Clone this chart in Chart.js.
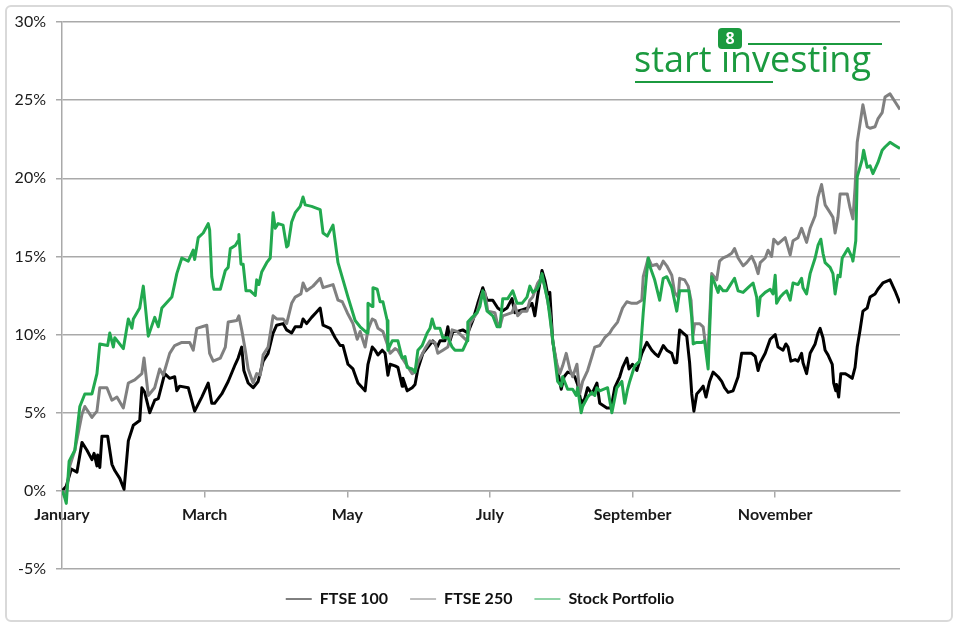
<!DOCTYPE html>
<html>
<head>
<meta charset="utf-8">
<script src="https://cdn.jsdelivr.net/npm/chart.js@4.4.0/dist/chart.umd.min.js"></script>
<style>
  html, body { margin: 0; padding: 0; background: #fff; }
  #wrap { position: relative; width: 960px; height: 630px; }
  #frame { position: absolute; left: 5px; top: 5px; width: 944px; height: 613px;
           border: 2px solid #d9d9d9; border-radius: 6px; }
  canvas { position: absolute; left: 0; top: 0; }
  .logo-word { position: absolute; left: 634px; top: 41px; font-family: "Open Sans", sans-serif;
               font-size: 36px; line-height: 36px; color: #1b9a3f; white-space: nowrap; }
  .logo-icon { position: absolute; left: 718px; top: 28px; width: 24px; height: 21px;
               background: #1b9a3f; border-radius: 4px; color: #fff; font: bold 16px/21px "Open Sans", sans-serif;
               text-align: center; }
  .rule { position: absolute; height: 2px; background: #1b9a3f; }
</style>
</head>
<body>
<div id="wrap">
  <div id="frame"></div>
  <canvas id="perfChart" width="960" height="630"></canvas>
  <div class="logo-icon">8</div>
  <div class="rule" style="left:748px; top:43px; width:134px;"></div>
  <div class="logo-word">start ınvesting</div>
  <div class="rule" style="left:635px; top:81px; width:138px;"></div>
</div>
<script>
// x positions are in months since 1 January, values are % return
const monthTicks = [0, 2, 4, 6, 8, 10];
const monthLabels = ['January', 'March', 'May', 'July', 'September', 'November'];

const ftse100X = [
  0.00,0.06,0.13,0.21,0.28,0.35,0.42,0.45,0.49,0.50,
  0.53,0.56,0.64,0.70,0.74,0.81,0.87,0.93,1.00,1.09,
  1.12,1.16,1.23,1.30,1.35,1.44,1.51,1.58,1.61,1.65,
  1.77,1.86,1.96,2.05,2.10,2.14,2.24,2.33,2.43,2.47,
  2.52,2.55,2.61,2.68,2.75,2.82,2.89,2.96,3.01,3.10,
  3.15,3.22,3.27,3.35,3.38,3.43,3.50,3.56,3.62,3.66,
  3.76,3.83,3.90,3.94,4.01,4.08,4.15,4.25,4.29,4.35,
  4.39,4.43,4.49,4.53,4.57,4.60,4.67,4.71,4.77,4.78,
  4.84,4.91,4.95,4.99,5.06,5.13,5.20,5.26,5.30,5.37,
  5.41,5.44,5.48,5.55,5.62,5.69,5.76,5.83,5.90,5.96,
  6.04,6.11,6.17,6.24,6.31,6.35,6.39,6.46,6.53,6.59,
  6.63,6.67,6.73,6.77,6.81,6.84,6.88,6.94,7.00,7.04,
  7.09,7.15,7.19,7.23,7.28,7.33,7.37,7.43,7.50,7.54,
  7.64,7.70,7.75,7.82,7.86,7.92,7.95,8.00,8.06,8.13,
  8.20,8.27,8.31,8.36,8.43,8.48,8.55,8.59,8.62,8.66,
  8.71,8.76,8.80,8.83,8.86,8.90,8.94,8.99,9.03,9.08,
  9.13,9.20,9.25,9.29,9.34,9.41,9.48,9.53,9.60,9.67,
  9.72,9.76,9.79,9.86,9.93,10.00,10.04,10.11,10.15,10.18,
  10.22,10.28,10.32,10.37,10.39,10.44,10.49,10.56,10.60,10.63,
  10.67,10.70,10.74,10.80,10.82,10.85,10.86,10.89,10.92,10.98,
  11.02,11.08,11.12,11.15,11.19,11.23,11.29,11.33,11.40,11.44,
  11.51,11.61,11.68,11.75
];
const ftse100 = [
  0.0,0.3,1.4,1.2,3.1,2.6,2.0,2.4,1.6,2.3,
  1.5,3.5,3.5,1.7,1.3,0.8,0.1,3.2,4.2,4.5,
  6.6,6.3,5.0,5.8,5.9,7.5,7.2,7.3,6.4,6.7,
  6.6,5.1,6.0,6.9,5.6,5.6,6.2,7.0,8.1,8.5,
  9.2,7.7,6.9,6.6,7.0,8.3,8.8,10.1,10.6,10.7,
  10.3,10.1,10.5,10.5,11.0,10.7,11.1,11.4,11.7,10.6,
  10.4,9.8,9.3,9.3,8.1,7.8,6.9,6.4,8.1,9.2,
  9.0,8.7,9.0,8.8,7.4,8.1,8.0,7.9,6.7,7.2,
  6.4,6.6,6.8,7.8,8.8,9.2,9.6,9.2,9.6,9.6,
  10.5,9.6,10.2,10.2,10.3,10.1,10.9,12.0,13.0,12.2,
  12.2,11.7,11.5,11.7,12.3,11.4,11.5,11.6,11.7,12.0,
  11.2,12.5,14.1,13.5,12.6,12.7,9.6,7.9,6.5,7.3,
  7.6,7.5,7.3,6.8,5.6,5.9,6.6,6.2,6.9,5.6,
  5.3,5.3,6.6,7.3,7.9,8.5,7.8,8.1,7.7,8.8,
  9.5,9.0,8.8,8.6,9.3,9.0,8.8,8.2,8.2,10.3,
  10.1,9.9,8.2,6.2,5.1,6.2,6.4,6.7,6.0,7.0,
  7.6,7.3,7.0,6.6,6.3,6.4,7.3,8.8,8.8,8.8,
  8.6,7.7,8.2,8.8,9.7,10.0,9.2,9.0,9.4,9.2,
  8.3,8.4,8.3,8.8,8.2,7.5,8.8,9.4,10.1,10.4,
  9.8,9.0,8.7,8.1,6.9,6.4,6.8,6.0,7.5,7.5,
  7.4,7.2,7.9,9.2,10.3,11.5,11.7,12.4,12.6,12.9,
  13.3,13.5,12.8,12.0
];

const ftse250X = [
  0.00,0.06,0.11,0.18,0.28,0.32,0.42,0.49,0.53,0.63,
  0.70,0.77,0.86,0.93,1.02,1.12,1.15,1.21,1.30,1.37,
  1.42,1.51,1.58,1.68,1.79,1.84,1.89,2.03,2.07,2.12,
  2.22,2.29,2.33,2.45,2.48,2.52,2.57,2.61,2.68,2.73,
  2.78,2.82,2.89,2.96,3.01,3.10,3.15,3.22,3.27,3.35,
  3.38,3.43,3.52,3.62,3.66,3.73,3.80,3.87,3.93,4.00,
  4.08,4.14,4.18,4.25,4.29,4.35,4.39,4.43,4.50,4.56,
  4.60,4.67,4.71,4.77,4.84,4.91,4.95,4.99,5.09,5.16,
  5.23,5.27,5.34,5.41,5.47,5.54,5.61,5.68,5.72,5.82,
  5.89,5.93,5.97,6.07,6.10,6.14,6.18,6.31,6.35,6.39,
  6.45,6.52,6.56,6.60,6.67,6.73,6.77,6.84,6.88,6.94,
  6.98,7.02,7.07,7.12,7.16,7.22,7.26,7.30,7.37,7.43,
  7.47,7.54,7.61,7.68,7.72,7.79,7.86,7.92,7.99,8.06,
  8.13,8.15,8.22,8.27,8.34,8.38,8.43,8.48,8.55,8.59,
  8.64,8.66,8.73,8.78,8.82,8.85,8.87,8.94,8.99,9.03,
  9.06,9.11,9.18,9.22,9.27,9.32,9.39,9.43,9.48,9.55,
  9.60,9.67,9.72,9.76,9.79,9.86,9.90,9.95,9.98,10.04,
  10.14,10.21,10.25,10.32,10.37,10.44,10.49,10.56,10.60,10.65,
  10.70,10.77,10.81,10.84,10.88,10.91,11.01,11.05,11.09,11.12,
  11.15,11.19,11.23,11.29,11.33,11.40,11.44,11.50,11.54,11.61,
  11.68,11.75
];
const ftse250 = [
  0.0,-0.2,1.6,2.6,4.9,5.4,4.7,5.1,6.6,6.6,
  5.8,6.0,5.3,6.9,7.1,7.5,8.5,6.1,6.6,7.8,
  7.4,8.8,9.3,9.5,9.5,9.0,10.4,10.6,8.8,8.3,
  8.5,9.2,10.8,10.9,11.2,10.3,9.0,7.8,6.9,7.5,
  7.4,8.7,9.2,11.2,11.0,11.0,10.7,12.0,12.4,12.6,
  13.3,12.8,13.1,13.6,13.0,13.1,13.2,12.2,12.1,11.4,
  10.7,9.7,10.2,9.2,10.3,11.0,10.9,10.4,10.2,9.4,
  8.8,9.1,9.0,8.5,8.0,7.5,7.6,8.2,9.1,9.6,
  9.5,8.8,9.0,9.2,10.3,10.2,9.9,9.6,10.7,11.4,
  12.6,12.7,11.5,11.4,10.8,10.5,11.2,11.4,11.9,11.2,
  11.5,11.5,12.2,12.4,13.3,13.7,13.1,11.4,9.6,8.1,
  7.5,8.0,8.8,7.8,7.3,8.1,6.2,7.0,7.7,8.6,
  9.2,9.3,9.8,10.1,10.4,10.8,11.7,12.1,12.0,12.0,
  12.2,13.7,14.9,14.4,14.5,14.2,14.7,14.4,13.8,12.7,
  12.4,13.6,13.5,13.1,12.2,10.0,10.7,10.7,10.5,9.1,
  9.0,13.9,13.5,14.7,14.9,15.0,15.2,15.5,14.9,14.4,
  14.6,15.0,14.5,13.9,14.6,14.9,15.4,15.0,16.1,15.8,
  16.2,15.1,16.0,16.2,16.8,15.9,16.8,17.6,18.8,19.6,
  18.3,17.8,17.5,16.5,17.5,19.0,19.0,18.1,17.4,19.4,
  22.3,23.5,24.7,23.3,23.2,23.3,23.8,24.2,25.2,25.4,
  24.9,24.4
];

const portfolioX = [
  0.00,0.03,0.06,0.10,0.18,0.25,0.32,0.42,0.49,0.53,
  0.64,0.67,0.72,0.74,0.86,0.93,0.98,1.00,1.09,1.14,
  1.16,1.21,1.30,1.35,1.40,1.54,1.61,1.68,1.77,1.84,
  1.86,1.91,1.98,2.05,2.07,2.10,2.13,2.22,2.29,2.33,
  2.36,2.43,2.47,2.48,2.51,2.54,2.58,2.64,2.71,2.73,
  2.76,2.80,2.87,2.92,2.96,2.99,3.03,3.10,3.15,3.17,
  3.22,3.27,3.34,3.38,3.41,3.50,3.62,3.66,3.72,3.80,
  3.87,3.94,4.01,4.11,4.18,4.28,4.29,4.35,4.36,4.42,
  4.46,4.50,4.56,4.57,4.63,4.71,4.77,4.81,4.84,4.91,
  4.95,4.99,5.05,5.12,5.16,5.19,5.23,5.30,5.34,5.41,
  5.47,5.51,5.62,5.68,5.69,5.75,5.82,5.86,5.90,5.96,
  6.04,6.10,6.14,6.18,6.25,6.32,6.38,6.45,6.52,6.56,
  6.60,6.66,6.70,6.73,6.77,6.81,6.87,6.91,6.95,7.00,
  7.02,7.09,7.16,7.21,7.23,7.28,7.30,7.37,7.43,7.47,
  7.50,7.54,7.65,7.71,7.78,7.85,7.89,7.93,7.96,8.03,
  8.10,8.15,8.19,8.22,8.24,8.31,8.38,8.43,8.48,8.55,
  8.62,8.66,8.73,8.79,8.83,8.85,8.90,8.97,9.01,9.04,
  9.06,9.11,9.15,9.20,9.22,9.27,9.32,9.36,9.43,9.48,
  9.55,9.62,9.69,9.74,9.76,9.79,9.86,9.93,9.97,10.00,
  10.02,10.07,10.11,10.16,10.21,10.25,10.32,10.37,10.39,10.44,
  10.49,10.56,10.60,10.64,10.67,10.70,10.77,10.81,10.84,10.88,
  10.91,10.94,11.02,11.08,11.09,11.13,11.15,11.22,11.24,11.29,
  11.33,11.37,11.44,11.50,11.54,11.61,11.68,11.75
];
const portfolio = [
  0.0,-0.3,-0.8,1.9,2.6,5.4,6.2,6.2,7.5,9.4,
  9.3,10.1,9.2,9.8,9.1,11.0,10.4,11.0,11.7,13.1,
  12.2,9.9,11.1,10.5,11.7,12.4,13.9,14.9,14.7,15.4,
  14.8,16.2,16.5,17.1,16.7,13.7,12.9,12.9,14.1,14.3,
  15.5,15.7,16.0,16.4,14.5,14.5,12.8,12.8,12.5,13.5,
  13.2,14.0,14.6,14.9,17.8,16.8,17.1,17.0,15.6,15.7,
  17.2,17.8,18.2,18.8,18.3,18.2,18.0,16.5,16.3,17.0,
  14.6,13.5,12.4,10.9,10.5,10.1,12.0,11.8,13.0,12.9,
  12.1,12.1,10.9,9.0,9.6,9.6,8.5,8.6,7.9,7.8,
  7.6,9.0,9.3,10.1,10.4,11.0,10.4,10.4,9.8,9.8,
  9.2,9.0,9.0,9.6,10.8,11.1,11.4,11.8,12.8,11.5,
  11.2,10.5,10.5,12.3,12.3,12.8,12.0,12.0,12.4,13.1,
  12.7,12.9,13.3,13.9,13.0,12.2,10.1,8.5,7.0,6.7,
  7.3,6.5,6.5,6.1,6.6,5.0,5.4,6.0,6.3,6.1,
  6.6,6.4,6.6,5.0,6.6,7.0,5.6,6.5,7.0,8.0,
  8.3,11.4,13.5,14.9,14.4,13.5,12.2,13.6,13.7,13.0,
  11.5,12.8,12.8,12.8,11.1,9.4,9.5,9.5,9.6,8.5,
  7.8,13.7,13.3,12.7,13.1,12.8,12.8,13.1,13.6,12.8,
  12.7,13.0,13.3,12.4,11.2,12.4,12.7,12.9,12.6,13.8,
  12.0,12.4,12.6,12.8,12.2,13.3,13.2,13.6,13.0,12.6,
  13.9,14.9,15.7,16.1,15.2,14.6,14.3,13.9,12.6,13.8,
  13.7,14.9,15.5,14.9,14.7,16.0,20.1,21.2,21.8,20.7,
  20.8,20.3,21.0,21.8,22.0,22.3,22.1,21.9
];

const seriesNames = ['FTSE 100', 'FTSE 250', 'Stock Portfolio'];
const seriesColors = ['#000000', '#808080', '#22a94f'];

function toPoints(xs, ys) {
  return xs.map((x, i) => ({ x: x, y: ys[i] }));
}

const FONT = 'Lato, "Open Sans", sans-serif';
const GRID = '#a9a9a9';

const canvas = document.getElementById('perfChart');
new Chart(canvas, {
  type: 'line',
  data: {
    datasets: [
      { label: seriesNames[0], data: toPoints(ftse100X, ftse100), borderColor: seriesColors[0], backgroundColor: seriesColors[0], order: 2 },
      { label: seriesNames[1], data: toPoints(ftse250X, ftse250), borderColor: seriesColors[1], backgroundColor: seriesColors[1], order: 1 },
      { label: seriesNames[2], data: toPoints(portfolioX, portfolio), borderColor: seriesColors[2], backgroundColor: seriesColors[2], order: 0 },
    ],
  },
  options: {
    responsive: false,
    animation: false,
    parsing: false,
    elements: {
      line: { borderWidth: 3, tension: 0, borderJoinStyle: 'round', fill: false },
      point: { radius: 0, hoverRadius: 0 },
    },
    layout: { padding: { top: 22, right: 0, bottom: 13, left: 0 } },
    scales: {
      x: {
        type: 'linear',
        min: 0,
        max: 11.75,
        position: { y: 0 },
        afterBuildTicks: (scale) => { scale.ticks = monthTicks.map((v) => ({ value: v })); },
        ticks: {
          callback: (v, i) => monthLabels[i],
          font: { family: FONT, size: 16, weight: 'bold' },
          color: '#1a1a1a',
          padding: 8,
          maxRotation: 0,
          autoSkip: false,
        },
        grid: { drawOnChartArea: false, drawTicks: true, tickLength: 6, color: GRID, lineWidth: 1.5 },
        border: { color: GRID, width: 1.5 },
      },
      y: {
        min: -5,
        max: 30,
        afterFit: (scale) => { scale.width = 62; },
        ticks: {
          stepSize: 5,
          callback: (v) => v + '%',
          font: { family: FONT, size: 16 },
          color: '#1a1a1a',
          padding: 10,
        },
        grid: { color: GRID, lineWidth: 1.5, tickLength: 6 },
        border: { color: GRID, width: 1.5 },
      },
      // empty right-hand axis, only keeps the plot clear of the right edge
      spacer: {
        position: 'right',
        afterFit: (scale) => { scale.width = 60; },
        ticks: { display: false },
        grid: { display: false },
        border: { display: false },
      },
    },
    plugins: {
      tooltip: { enabled: false },
      legend: {
        position: 'bottom',
        labels: {
          usePointStyle: true,
          pointStyle: 'line',
          pointStyleWidth: 26,
          font: { family: FONT, size: 16, weight: 'bold' },
          color: '#111',
          padding: 22,
          sort: (a, b) => a.datasetIndex - b.datasetIndex,
        },
      },
    },
  },
});
</script>
</body>
</html>
